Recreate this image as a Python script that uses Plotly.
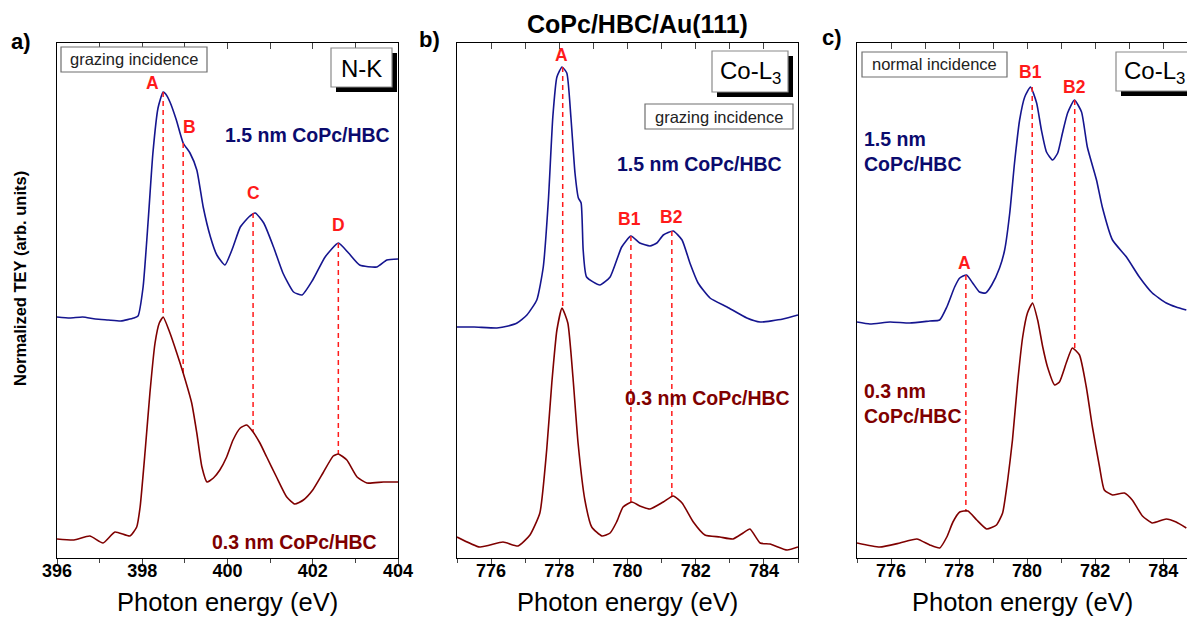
import plotly.graph_objects as go

W, H = 1187, 617
FONT = "Liberation Sans, Arial, sans-serif"
BLUE = "#15158f"
BLUE_TXT = "#0b0b6e"
DRED = "#7f0000"
RED = "#ff1a1a"

# ---------------- data ----------------
# panel a: N-K edge, grazing incidence
a_x_thick = [396.0, 396.3, 396.6, 396.9, 397.2, 397.5, 397.8, 397.9, 398.02, 398.14, 398.25, 398.37,
             398.49, 398.55, 398.65, 398.8, 398.96, 399.12, 399.28, 399.43, 399.6, 399.75, 399.94,
             400.13, 400.3, 400.5, 400.65, 400.85, 401.08, 401.3, 401.55, 401.75, 402.0, 402.29,
             402.6, 402.84, 403.1, 403.5, 403.74, 404.0]
a_y_thick = [2.41, 2.40, 2.41, 2.39, 2.38, 2.37, 2.40, 2.42, 2.71, 3.38, 4.05, 4.50,
             4.66, 4.64, 4.56, 4.38, 4.15, 4.05, 3.88, 3.51, 3.21, 3.03, 2.93,
             3.11, 3.31, 3.41, 3.45, 3.35, 3.11, 2.85, 2.66, 2.63, 2.78, 3.01,
             3.15, 3.05, 2.93, 2.91, 2.98, 2.99]
a_x_thin = [396.0, 396.4, 396.77, 397.08, 397.36, 397.71, 397.87, 397.95, 398.07, 398.18, 398.3, 398.4,
            398.49, 398.65, 398.81, 398.96, 399.16, 399.28, 399.4, 399.52, 399.67, 399.82, 399.98,
            400.13, 400.3, 400.45, 400.6, 400.76, 400.92, 401.15, 401.39, 401.58, 401.78, 402.0,
            402.24, 402.48, 402.6, 402.8, 403.04, 403.27, 403.66, 404.0]
a_y_thin = [0.19, 0.18, 0.22, 0.15, 0.26, 0.22, 0.31, 0.51, 1.08, 1.65, 2.15, 2.35,
            2.41, 2.25, 2.05, 1.85, 1.55, 1.25, 0.91, 0.76, 0.80, 0.88, 1.01,
            1.18, 1.30, 1.33, 1.26, 1.15, 1.01, 0.81, 0.61, 0.54, 0.58, 0.68,
            0.85, 1.02, 1.04, 0.98, 0.81, 0.75, 0.76, 0.76]
a_peaks = ["A", "B", "C", "D"]
a_peak_x = [398.49, 398.96, 400.6, 402.6]
a_peak_top = [4.66, 4.15, 3.45, 3.15]
a_peak_bot = [2.41, 1.85, 1.26, 1.04]
a_label_x = [398.23, 399.1, 400.62, 402.6]
a_label_y = [4.75, 4.31, 3.65, 3.33]

# panel b: Co-L3 edge, grazing incidence
b_x_thick = [775.0, 775.5, 776.17, 776.5, 776.76, 777.05, 777.34, 777.53, 777.68, 777.81, 777.93,
             778.08, 778.22, 778.34, 778.46, 778.56, 778.64, 778.7, 778.8, 779.19, 779.49, 779.83,
             780.1, 780.36, 780.66, 780.86, 781.05, 781.34, 781.6, 781.83, 782.07, 782.42, 782.92,
             783.5, 783.89, 784.56, 785.0]
b_y_thick = [2.31, 2.31, 2.30, 2.32, 2.35, 2.43, 2.58, 2.91, 3.58, 4.41, 4.81,
             4.91, 4.85, 4.41, 3.85, 3.60, 3.55, 3.08, 2.81, 2.73, 2.81, 3.11,
             3.22, 3.15, 3.12, 3.15, 3.23, 3.27, 3.18, 2.95, 2.75, 2.60, 2.51,
             2.40, 2.36, 2.39, 2.43]
b_x_thin = [775.0, 775.67, 776.35, 776.79, 777.14, 777.43, 777.63, 777.78, 777.93, 778.08, 778.25,
            778.4, 778.55, 778.75, 778.95, 779.25, 779.49, 779.68, 779.87, 780.13, 780.36, 780.66,
            781.05, 781.34, 781.6, 781.93, 782.27, 782.71, 783.09, 783.39, 783.59, 783.89, 784.18,
            784.68, 785.0]
b_y_thin = [0.21, 0.11, 0.16, 0.12, 0.23, 0.45, 1.08, 1.75, 2.28, 2.50, 2.35,
            1.81, 1.15, 0.58, 0.31, 0.22, 0.25, 0.36, 0.51, 0.56, 0.52, 0.49,
            0.56, 0.62, 0.55, 0.36, 0.23, 0.21, 0.19, 0.25, 0.29, 0.15, 0.14,
            0.08, 0.11]
b_peaks = ["A", "B1", "B2"]
b_peak_x = [778.1, 780.1, 781.3]
b_peak_top = [4.91, 3.22, 3.27]
b_peak_bot = [2.50, 0.56, 0.62]
b_label_x = [778.05, 780.07, 781.3]
b_label_y = [5.03, 3.39, 3.41]

# panel c: Co-L3 edge, normal incidence
c_x_thick = [775.0, 775.38, 775.97, 776.55, 777.14, 777.43, 777.64, 777.87, 778.02, 778.22, 778.4,
             778.6, 778.78, 778.96, 779.19, 779.34, 779.49, 779.63, 779.78, 779.93, 780.1, 780.28,
             780.42, 780.57, 780.75, 780.9, 781.04, 781.19, 781.39, 781.6, 781.77, 782.04, 782.21,
             782.51, 782.92, 783.3, 783.68, 784.09, 784.38, 784.68]
c_y_thick = [2.36, 2.34, 2.36, 2.35, 2.37, 2.38, 2.51, 2.71, 2.80, 2.83, 2.75,
             2.66, 2.65, 2.73, 2.90, 3.08, 3.45, 3.95, 4.38, 4.61, 4.71, 4.55,
             4.28, 4.06, 3.98, 4.05, 4.25, 4.45, 4.58, 4.46, 4.11, 3.78, 3.51,
             3.18, 3.01, 2.81, 2.65, 2.55, 2.51, 2.48]
c_x_thin = [775.0, 775.67, 776.26, 776.76, 777.14, 777.43, 777.64, 777.82, 778.02, 778.26, 778.52,
            778.81, 779.1, 779.28, 779.43, 779.57, 779.72, 779.87, 780.01, 780.16, 780.31, 780.46,
            780.6, 780.81, 780.95, 781.16, 781.33, 781.54, 781.74, 781.92, 782.13, 782.27, 782.51,
            782.86, 783.09, 783.39, 783.68, 784.09, 784.38, 784.68]
c_y_thin = [0.15, 0.11, 0.15, 0.19, 0.13, 0.10, 0.21, 0.36, 0.46, 0.47, 0.38,
            0.29, 0.33, 0.45, 0.78, 1.18, 1.75, 2.21, 2.45, 2.55, 2.38, 2.11,
            1.91, 1.73, 1.76, 1.96, 2.10, 2.03, 1.71, 1.31, 0.91, 0.68, 0.63,
            0.65, 0.58, 0.42, 0.35, 0.39, 0.36, 0.30]
c_peaks = ["A", "B1", "B2"]
c_peak_x = [778.2, 780.15, 781.4]
c_peak_top = [2.83, 4.71, 4.58]
c_peak_bot = [0.47, 2.55, 2.10]
c_label_x = [778.17, 780.1, 781.39]
c_label_y = [2.95, 4.86, 4.71]

x_ranges = [[396, 404], [775, 785], [775, 784.7]]
x_tick0 = [396, 776, 776]
thick_label = "1.5 nm CoPc/HBC"
thin_label = "0.3 nm CoPc/HBC"

# ---------------- layout helpers ----------------
def fx(p):
    return p / W

def fy(p):
    return 1 - p / H

Y_DOM = [fy(558), fy(43)]
X_DOMS = [[fx(57), fx(398)], [fx(457), fx(798)], [fx(857), 1.0]]

fig = go.Figure()

panels = [
    (a_x_thick, a_y_thick, a_x_thin, a_y_thin, a_peaks, a_peak_x, a_peak_top, a_peak_bot, a_label_x, a_label_y),
    (b_x_thick, b_y_thick, b_x_thin, b_y_thin, b_peaks, b_peak_x, b_peak_top, b_peak_bot, b_label_x, b_label_y),
    (c_x_thick, c_y_thick, c_x_thin, c_y_thin, c_peaks, c_peak_x, c_peak_top, c_peak_bot, c_label_x, c_label_y),
]

annotations = []
for i, (xt, yt, xn, yn, pk, pkx, pkt, pkb, lx, ly) in enumerate(panels):
    n = i + 1
    xa = "x" if n == 1 else f"x{n}"
    ya = "y" if n == 1 else f"y{n}"
    xtop = f"x{n + 3}"
    xlab = f"x{n + 6}"
    fig.add_trace(go.Scatter(x=xt, y=yt, mode="lines", xaxis=xa, yaxis=ya,
                             line=dict(color=BLUE, width=1.6, shape="spline", smoothing=0.5),
                             showlegend=False, hoverinfo="skip"))
    fig.add_trace(go.Scatter(x=xn, y=yn, mode="lines", xaxis=xlab, yaxis=ya,
                             line=dict(color=DRED, width=1.6, shape="spline", smoothing=0.5),
                             showlegend=False, hoverinfo="skip"))
    vx, vy = [], []
    for px_, t, b in zip(pkx, pkt, pkb):
        vx += [px_, px_, None]
        vy += [t, b, None]
    fig.add_trace(go.Scatter(x=vx, y=vy, mode="lines", xaxis=xtop, yaxis=ya,
                             line=dict(color=RED, width=1.5, dash="5px,4px"),
                             showlegend=False, hoverinfo="skip"))
    for t, x_, y_ in zip(pk, lx, ly):
        annotations.append(dict(x=x_, y=y_, xref=xa, yref=ya, text=t, showarrow=False,
                                font=dict(family=FONT, size=17.5, color=RED, weight="bold"),
                                xanchor="center", yanchor="middle"))

axis_common = dict(showline=True, linecolor="black", linewidth=1.4, showgrid=False, zeroline=False,
                   automargin=False)
layout = dict(width=W, height=H, autosize=False, margin=dict(l=0, r=0, t=0, b=0, pad=0),
              plot_bgcolor="white", paper_bgcolor="white", font=dict(family=FONT, color="black"))
for i in range(3):
    n = i + 1
    sfx = "" if n == 1 else str(n)
    # main axis: frame + outside major/minor ticks, no labels
    layout[f"xaxis{sfx}"] = dict(axis_common, domain=X_DOMS[i], range=x_ranges[i],
                                 anchor="y" + sfx, mirror=True,
                                 ticks="outside", ticklen=7, tickwidth=1.4, dtick=2, tick0=x_tick0[i],
                                 minor=dict(ticks="outside", ticklen=4, tickwidth=1.4, dtick=1, tick0=x_tick0[i]),
                                 showticklabels=False)
    layout[f"yaxis{sfx}"] = dict(axis_common, domain=Y_DOM, range=[0, 5.15], anchor="x" + sfx,
                                 mirror=(n != 3), ticks="", showticklabels=False)
    # top axis: inside ticks
    layout[f"xaxis{n + 3}"] = dict(overlaying="x" + sfx, side="top", range=x_ranges[i], anchor="y" + sfx,
                                   showline=False, showgrid=False, zeroline=False, ticks="inside",
                                   ticklen=6, tickwidth=1.4, dtick=1, tick0=x_tick0[i], showticklabels=False,
                                   automargin=False)
    # label axis: bottom tick labels close to the frame
    layout[f"xaxis{n + 6}"] = dict(overlaying="x" + sfx, side="bottom", range=x_ranges[i], anchor="y" + sfx,
                                   showline=False, showgrid=False, zeroline=False, ticks="",
                                   dtick=2, tick0=x_tick0[i], showticklabels=True,
                                   tickfont=dict(family=FONT, size=18, color="black", weight="bold"),
                                   automargin=False)

shapes = []

def box(x0, y0, x1, y1, shadow=False):
    if shadow:
        shapes.append(dict(type="rect", xref="paper", yref="paper", x0=fx(x0 + 5), x1=fx(x1 + 5),
                           y0=fy(y0 + 5), y1=fy(y1 + 5), fillcolor="black", line=dict(width=0)))
    shapes.append(dict(type="rect", xref="paper", yref="paper", x0=fx(x0), x1=fx(x1),
                       y0=fy(y0), y1=fy(y1), fillcolor="white",
                       line=dict(color="#6e6e6e" if not shadow else "#8a8a8a", width=1.2)))

def text(x, y, t, size, color="black", bold=False, xanchor="center", align="center"):
    annotations.append(dict(x=fx(x), y=fy(y), xref="paper", yref="paper", text=t, showarrow=False,
                            xanchor=xanchor, yanchor="middle", align=align,
                            font=dict(family=FONT, size=size, color=color,
                                      weight="bold" if bold else "normal")))

# panel a boxes
box(61, 47, 207, 72)
text(134, 59.5, "grazing incidence", 16.5, "#222222")
box(331, 48, 392, 87, shadow=True)
text(361.5, 68, "N-K", 24)
# panel b boxes
box(712, 51, 788, 92, shadow=True)
text(750, 72, "Co-L<sub>3</sub>", 24)
box(645, 104, 793, 129)
text(719, 116.5, "grazing incidence", 16.5, "#222222")
# panel c boxes
box(862, 52, 1007, 77)
text(934.5, 64.5, "normal incidence", 16.5, "#222222")
box(1116, 52, 1205, 91, shadow=True)
text(1122, 72, "Co-L<sub>3</sub>", 24, xanchor="left")

# sample labels
text(223, 135, thick_label, 19.5, BLUE_TXT, True, xanchor="left")
text(210, 542, thin_label, 19.5, DRED, True, xanchor="left")
text(615, 164, thick_label, 19.5, BLUE_TXT, True, xanchor="left")
text(623, 398, thin_label, 19.5, DRED, True, xanchor="left")
text(862, 151, thick_label.replace(" CoPc", "<br>CoPc"), 19.5, BLUE_TXT, True, xanchor="left", align="left")
text(862, 403, thin_label.replace(" CoPc", "<br>CoPc"), 19.5, DRED, True, xanchor="left", align="left")

# panel letters, title, axis titles
text(21, 42, "a)", 22, bold=True)
text(429, 40, "b)", 22, bold=True)
text(832, 37, "c)", 22, bold=True)
text(637, 24, "CoPc/HBC/Au(111)", 25, bold=True)
for cx in [227.5, 627.5, 1022]:
    text(cx, 602, "Photon energy (eV)", 25.5)
annotations.append(dict(x=fx(20), y=fy(279), xref="paper", yref="paper", text="Normalized TEY (arb. units)",
                        showarrow=False, textangle=-90, xanchor="center", yanchor="middle",
                        font=dict(family=FONT, size=16.5, color="black", weight="bold")))

layout["shapes"] = shapes
layout["annotations"] = annotations
fig.update_layout(**layout)
fig.write_html("out.html", config={"responsive": False})
